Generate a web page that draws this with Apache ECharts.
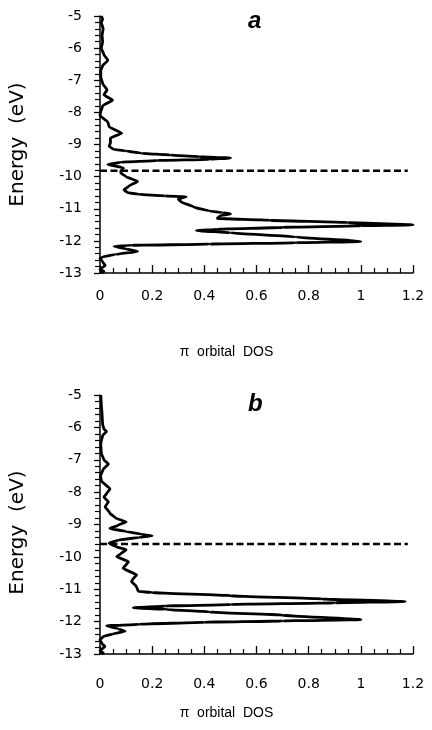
<!DOCTYPE html>
<html>
<head>
<meta charset="utf-8">
<script src="https://cdn.jsdelivr.net/npm/echarts@6/dist/echarts.min.js"></script>
<style>
  html, body { margin: 0; padding: 0; background: #fff; }
  #chart { width: 432px; height: 730px; }
</style>
</head>
<body>
<div id="chart"></div>
<script>
  // panel a: energy (eV) and pi orbital DOS
  var energyA = [-5.0, -5.1, -5.2, -5.4, -5.6, -5.8, -6.0, -6.2, -6.38, -6.55, -6.7, -6.9, -7.1, -7.3, -7.45, -7.62, -7.8, -8.0, -8.1,
    -8.3, -8.45, -8.65, -8.8, -8.95, -9.05, -9.15, -9.2, -9.27, -9.33, -9.38, -9.42, -9.46, -9.5, -9.55, -9.62,
    -9.73, -9.82, -9.89, -10.0, -10.15, -10.3, -10.41, -10.5, -10.55, -10.6, -10.63, -10.7, -10.78, -10.95, -11.07,
    -11.12, -11.16, -11.22, -11.3, -11.36, -11.43, -11.5, -11.53, -11.58, -11.64, -11.68, -11.75, -11.88, -12.02,
    -12.06, -12.1, -12.14, -12.17, -12.25, -12.33, -12.42, -12.5, -12.55, -12.65, -12.77, -12.88, -12.95, -13.0];
  var dosA = [0.005, 0.01, 0.005, 0.012, 0.008, 0.01, 0.005, 0.015, 0.03, 0.01, 0.003, 0.003, 0.01, 0.027, 0.015, 0.048, 0.01, 0.002, 0.0,
    0.03, 0.035, 0.083, 0.04, 0.04, 0.035, 0.05, 0.1, 0.16, 0.27, 0.38, 0.5, 0.42, 0.22, 0.08, 0.03,
    0.09, 0.08, 0.08, 0.1, 0.144, 0.11, 0.092, 0.106, 0.15, 0.25, 0.33, 0.3, 0.31, 0.36, 0.42,
    0.47, 0.5, 0.46, 0.45, 0.65, 0.95, 1.2, 1.0, 0.7, 0.45, 0.37, 0.5, 0.75, 1.0,
    0.75, 0.42, 0.12, 0.054, 0.1, 0.144, 0.06, 0.01, 0.0, 0.01, 0.02, 0.0, 0.015, 0.005];

  // panel b
  var energyB = [-5.0, -5.3, -5.6, -5.9, -6.05, -6.13, -6.25, -6.5, -6.8, -7.0, -7.13, -7.3, -7.5, -7.65, -7.9, -8.05, -8.15,
    -8.3, -8.45, -8.65, -8.8, -8.92, -9.02, -9.12, -9.22, -9.3, -9.35, -9.4, -9.48, -9.58, -9.68, -9.78, -9.9, -9.99,
    -10.15, -10.35, -10.56, -10.7, -10.76, -10.92, -11.07, -11.1, -11.2, -11.3, -11.38, -11.42, -11.47, -11.52, -11.57,
    -11.62, -11.7, -11.8, -11.94, -11.98, -12.02, -12.08, -12.13, -12.22, -12.3, -12.38, -12.46, -12.56, -12.68, -12.77,
    -12.9, -12.97, -13.0];
  var dosB = [0.003, 0.005, 0.008, 0.01, 0.015, 0.025, 0.01, 0.003, 0.005, 0.015, 0.032, 0.012, 0.002, 0.005, 0.038, 0.025, 0.015,
    0.032, 0.02, 0.038, 0.06, 0.1, 0.07, 0.038, 0.1, 0.16, 0.2, 0.15, 0.07, 0.035, 0.06, 0.1, 0.08, 0.064,
    0.109, 0.089, 0.14, 0.125, 0.121, 0.14, 0.147, 0.2, 0.5, 0.85, 1.17, 0.9, 0.5, 0.25, 0.128,
    0.25, 0.42, 0.7, 1.0, 0.7, 0.4, 0.15, 0.026, 0.07, 0.096, 0.05, 0.013, 0.0, 0.008, 0.019,
    0.0, 0.013, 0.005];

  // dashed Fermi level lines
  var fermiA = -9.82;
  var fermiB = -9.6;
  var fermiEnd = 1.18;

  function zip(xs, ys) {
    var out = [];
    for (var i = 0; i < xs.length; i++) out.push([xs[i], ys[i]]);
    return out;
  }

  var FONT = 'DejaVu Sans';

  function makeX(idx, margin, gap) {
    return {
      type: 'value', gridIndex: idx, min: 0, max: 1.2, interval: 0.2,
      name: 'π  orbital  DOS', nameLocation: 'middle', nameGap: gap,
      nameTextStyle: {color: '#000', fontSize: 14, fontFamily: 'Liberation Sans', padding: [0, 60, 0, 0]},
      axisLine: {show: true, lineStyle: {color: '#000', width: 1.5}},
      axisTick: {show: true, inside: true, length: 8, lineStyle: {color: '#000', width: 1.3}},
      minorTick: {show: true, splitNumber: 4, length: 5, lineStyle: {color: '#000', width: 1.2}},
      splitLine: {show: false},
      axisLabel: {color: '#000', fontSize: 14, fontFamily: FONT, margin: margin}
    };
  }

  function makeY(idx, namePad) {
    return {
      type: 'value', gridIndex: idx, min: -13, max: -5, interval: 1,
      name: 'Energy  (eV)', nameLocation: 'middle', nameGap: 72,
      nameTextStyle: {color: '#000', fontSize: 20, fontFamily: FONT, padding: namePad},
      axisLine: {show: true, lineStyle: {color: '#000', width: 1.5}},
      axisTick: {show: true, length: 6, lineStyle: {color: '#000', width: 1.3}},
      minorTick: {show: true, splitNumber: 5, length: 5, lineStyle: {color: '#000', width: 1.2}},
      splitLine: {show: false},
      axisLabel: {color: '#000', fontSize: 14, fontFamily: FONT, margin: 18}
    };
  }

  function dosSeries(idx, xs, ys) {
    return {
      type: 'line', xAxisIndex: idx, yAxisIndex: idx, data: zip(xs, ys),
      symbol: 'none', smooth: 0.15, smoothMonotone: 'y',
      lineStyle: {color: '#000', width: 2.8}
    };
  }

  function fermiSeries(idx, e) {
    return {
      type: 'line', xAxisIndex: idx, yAxisIndex: idx, data: [[0, e], [fermiEnd, e]],
      symbol: 'none', lineStyle: {color: '#000', width: 2.5, type: [7, 3.5]}
    };
  }

  var chart = echarts.init(document.getElementById('chart'));
  chart.setOption({
    animation: false,
    title: [
      {text: 'a', left: 248, top: 9, padding: 0,
        textStyle: {color: '#000', fontSize: 24, fontStyle: 'italic', fontWeight: 'bold', fontFamily: 'Liberation Sans'}},
      {text: 'b', left: 248, top: 392, padding: 0,
        textStyle: {color: '#000', fontSize: 24, fontStyle: 'italic', fontWeight: 'bold', fontFamily: 'Liberation Sans'}}
    ],
    grid: [
      {left: 99, top: 16, width: 314, height: 257},
      {left: 100, top: 395, width: 313, height: 259}
    ],
    xAxis: [makeX(0, 16, 72), makeX(1, 23, 52)],
    yAxis: [makeY(0, [0, 0, 0, 0]), makeY(1, [0, 16, 0, 0])],
    series: [
      fermiSeries(0, fermiA),
      dosSeries(0, dosA, energyA),
      fermiSeries(1, fermiB),
      dosSeries(1, dosB, energyB)
    ]
  });
</script>
</body>
</html>
